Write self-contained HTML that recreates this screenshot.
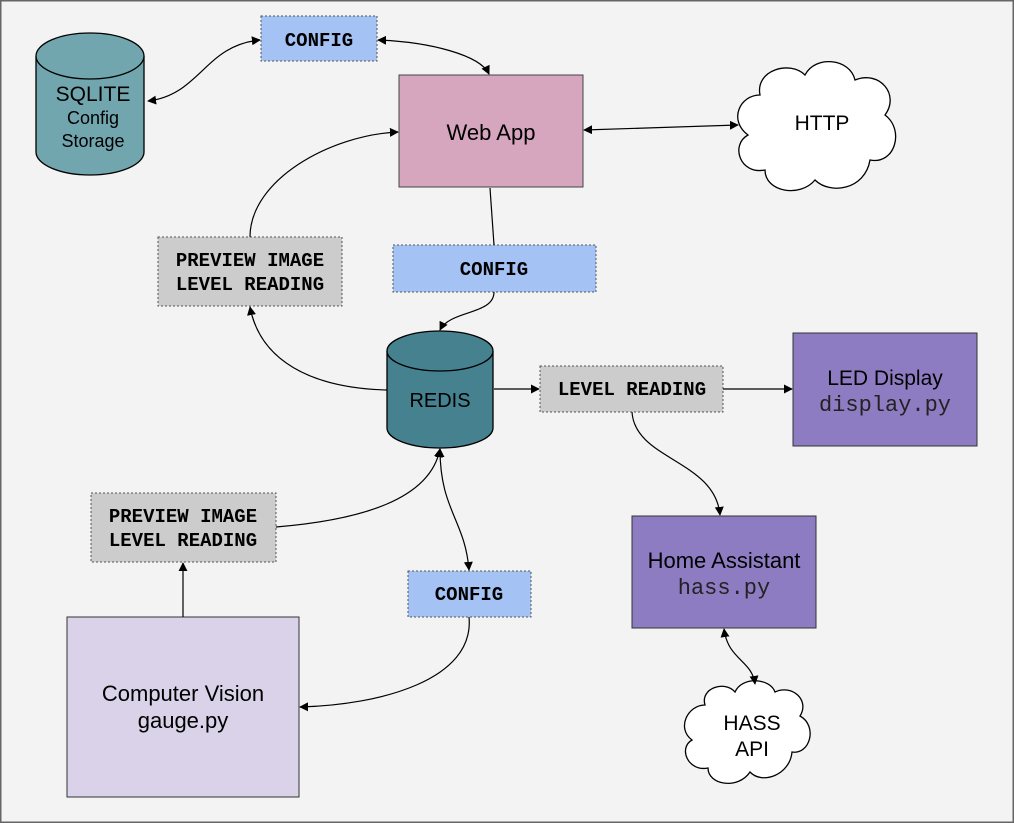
<!DOCTYPE html>
<html><head><meta charset="utf-8"><style>
html,body{margin:0;padding:0;background:#f3f3f3;}
svg{display:block;}
.s{font-family:"Liberation Sans",sans-serif;fill:#000;}
.m{font-family:"Liberation Mono",monospace;font-weight:bold;font-size:19px;fill:#000;}
.mr{font-family:"Liberation Mono",monospace;font-size:22px;fill:#222;}
</style></head><body>
<svg width="1014" height="823" viewBox="0 0 1014 823" xmlns="http://www.w3.org/2000/svg">
<defs><marker id="a" viewBox="0 0 10 10" refX="9" refY="5" markerWidth="9" markerHeight="9" markerUnits="userSpaceOnUse" orient="auto-start-reverse"><path d="M0,0 L10,5 L0,10 z" fill="#000"/></marker></defs>
<rect x="0.5" y="0.5" width="1013" height="822" fill="#f3f3f3" stroke="#666" stroke-width="2"/>

<path d="M36,56 L36,152 A54,23 0 0 0 144,152 L144,56" fill="#72a6af" stroke="#000" stroke-width="1.3"/>
<ellipse cx="90" cy="56" rx="54" ry="23" fill="#72a6af" stroke="#000" stroke-width="1.3"/>
<text class="s" x="93" y="101" font-size="21" text-anchor="middle">SQLITE</text>
<text class="s" x="93" y="124" font-size="18" text-anchor="middle">Config</text>
<text class="s" x="93" y="147" font-size="18" text-anchor="middle">Storage</text>

<rect x="261" y="16" width="116" height="45" fill="#a4c2f4" stroke="#555" stroke-dasharray="2,2"/>
<text class="m" x="319" y="46" text-anchor="middle">CONFIG</text>
<rect x="399" y="75" width="184" height="112" fill="#d5a6bd" stroke="#444"/>
<text class="s" x="491" y="140" font-size="22" text-anchor="middle">Web App</text>
<rect x="158" y="237" width="184" height="69" fill="#cccccc" stroke="#555" stroke-dasharray="2,2"/>
<text class="m" x="250" y="266" text-anchor="middle">PREVIEW IMAGE</text>
<text class="m" x="250" y="290" text-anchor="middle">LEVEL READING</text>
<rect x="393" y="245" width="203" height="47" fill="#a4c2f4" stroke="#555" stroke-dasharray="2,2"/>
<text class="m" x="494" y="275" text-anchor="middle">CONFIG</text>

<path d="M387,351 L387,428 A53,20 0 0 0 493,428 L493,351" fill="#45818e" stroke="#000" stroke-width="1.3"/>
<ellipse cx="440" cy="351" rx="53" ry="20" fill="#45818e" stroke="#000" stroke-width="1.3"/>
<text class="s" x="440" y="407" font-size="20" text-anchor="middle">REDIS</text>

<rect x="540" y="366" width="183" height="46" fill="#cccccc" stroke="#555" stroke-dasharray="2,2"/>
<text class="m" x="632" y="395" text-anchor="middle">LEVEL READING</text>
<rect x="793" y="333" width="184" height="113" fill="#8e7cc3" stroke="#333"/>
<text class="s" x="885" y="385" font-size="21" text-anchor="middle">LED Display</text>
<text class="mr" x="885" y="411" text-anchor="middle">display.py</text>
<rect x="632" y="516" width="184" height="112" fill="#8e7cc3" stroke="#333"/>
<text class="s" x="724" y="568" font-size="22" text-anchor="middle">Home Assistant</text>
<text class="mr" x="724" y="594" text-anchor="middle">hass.py</text>
<rect x="91" y="493" width="185" height="69" fill="#cccccc" stroke="#555" stroke-dasharray="2,2"/>
<text class="m" x="183" y="522" text-anchor="middle">PREVIEW IMAGE</text>
<text class="m" x="183" y="546" text-anchor="middle">LEVEL READING</text>
<rect x="408" y="571" width="123" height="46" fill="#a4c2f4" stroke="#555" stroke-dasharray="2,2"/>
<text class="m" x="469" y="600" text-anchor="middle">CONFIG</text>
<rect x="67" y="617" width="232" height="180" fill="#d9d2e9" stroke="#333"/>
<text class="s" x="183" y="701" font-size="22" text-anchor="middle">Computer Vision</text>
<text class="s" x="183" y="728" font-size="22" text-anchor="middle">gauge.py</text>

<path d="M760,95 C755,70 790,60 805,75 C815,55 850,58 855,80 C880,70 900,95 885,115 C905,130 895,165 870,160 C865,190 830,195 815,180 C800,198 765,192 765,170 C740,175 730,145 748,135 C728,120 740,95 760,95 Z" fill="#fff" stroke="#000" stroke-width="1.3"/>
<text class="s" x="822" y="130" font-size="21" text-anchor="middle">HTTP</text>
<path d="M705,705 C700,688 725,680 735,692 C742,676 770,678 775,692 C792,684 810,700 800,716 C818,726 810,755 792,752 C790,775 762,785 750,772 C738,790 708,785 708,768 C688,772 678,748 692,740 C676,728 688,705 705,705 Z" fill="#fff" stroke="#000" stroke-width="1.3"/>
<text class="s" x="752" y="730" font-size="21" text-anchor="middle">HASS</text>
<text class="s" x="752" y="756" font-size="21" text-anchor="middle">API</text>

<g fill="none" stroke="#000" stroke-width="1.2">
<path d="M148,101 C200,95 205,45 260,40" marker-start="url(#a)" marker-end="url(#a)"/>
<path d="M378,40 C430,42 480,55 489,74" marker-start="url(#a)" marker-end="url(#a)"/>
<path d="M584,130 L738,125" marker-start="url(#a)" marker-end="url(#a)"/>
<path d="M490,188 L494,245"/>
<path d="M494,292 C494,315 450,310 440,330" marker-end="url(#a)"/>
<path d="M250,237 C250,180 330,135 398,132" marker-end="url(#a)"/>
<path d="M387,390 C310,388 260,360 250,307" marker-end="url(#a)"/>
<path d="M494,389 L539,389" marker-end="url(#a)"/>
<path d="M723,389 L792,389" marker-end="url(#a)"/>
<path d="M632,412 C635,460 715,460 720,515" marker-end="url(#a)"/>
<path d="M276,527 C360,520 430,500 440,449" marker-end="url(#a)"/>
<path d="M440,449 C440,510 465,520 469,570" marker-start="url(#a)" marker-end="url(#a)"/>
<path d="M469,617 C475,680 380,705 300,707" marker-end="url(#a)"/>
<path d="M183,617 L183,563" marker-end="url(#a)"/>
<path d="M724,629 C728,660 752,660 755,684" marker-start="url(#a)" marker-end="url(#a)"/>
</g>
</svg>
</body></html>
